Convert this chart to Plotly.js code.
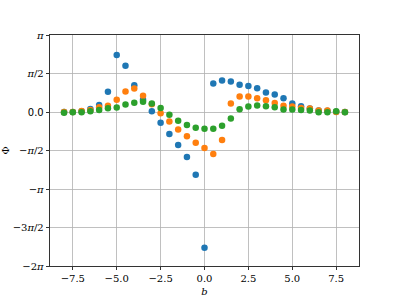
<!DOCTYPE html>
<html>
<head>
<meta charset="utf-8">
<script src="https://cdn.plot.ly/plotly-3.0.1.min.js"></script>
<style>html,body{margin:0;padding:0;background:#fff;}#chart{width:399px;height:299px;}</style>
</head>
<body>
<div id="chart"></div>
<script>
const b = [-8,-7.5,-7,-6.5,-6,-5.5,-5,-4.5,-4,-3.5,-3,-2.5,-2,-1.5,-1,-0.5,0,0.5,1,1.5,2,2.5,3,3.5,4,4.5,5,5.5,6,6.5,7,7.5,8];
const phiBlue = [0,0,0.03,0.12,0.29,0.83,2.33,1.89,1.09,0.50,0.03,-0.44,-0.90,-1.35,-1.84,-2.56,-5.54,1.16,1.29,1.24,1.11,1.06,0.97,0.80,0.71,0.56,0.35,0.23,0.14,0.06,0.05,0.01,0];
const phiOrange = [0,0,0.04,0.08,0.19,0.25,0.50,0.84,0.96,0.66,0.32,-0.05,-0.39,-0.71,-0.99,-1.25,-1.47,-1.71,-1.14,0.35,0.63,0.63,0.56,0.48,0.37,0.26,0.22,0.16,0.14,0.06,0.06,0,0];
const phiGreen = [-0.03,-0.01,-0.01,0.03,0.08,0.15,0.18,0.31,0.38,0.42,0.35,0.16,-0.11,-0.36,-0.53,-0.64,-0.68,-0.68,-0.56,-0.27,0.11,0.22,0.27,0.23,0.19,0.10,0.10,0.08,0.06,-0.01,-0.01,0.03,-0.01];
const yTickMult = [1,0.5,0,-0.5,-1,-1.5,-2];
const yTickText = ['<i>π</i>','<i>π</i>/2','<span style="font-family:DejaVu Sans">0.0</span>','−<i>π</i>/2','−<i>π</i>','−3<i>π</i>/2','−2<i>π</i>'];
const xTickVals = [-7.5,-5,-2.5,0,2.5,5,7.5];
const xTickText = ['−7.5','−5.0','−2.5','0.0','2.5','5.0','7.5'];

const colors = ['#1f77b4','#ff7f0e','#2ca02c'];
const series = [phiBlue, phiOrange, phiGreen];
const traces = series.map((s,i)=>({
  x: b, y: s, type:'scatter', mode:'markers',
  marker:{color:colors[i], size:6.5, line:{width:0}},
  showlegend:false, cliponaxis:false
}));

const layout = {
  width:399, height:299,
  margin:{l:50, r:40, t:35, b:33},
  paper_bgcolor:'#fff', plot_bgcolor:'#fff',
  font:{family:'DejaVu Serif', size:10, color:'#000'},
  xaxis:{
    range:[-8.8,8.8], tickvals:xTickVals, ticktext:xTickText,
    showgrid:true, gridcolor:'#b0b0b0', gridwidth:0.8,
    zeroline:false, showline:true, linecolor:'#000', linewidth:0.8, mirror:true,
    ticks:'outside', ticklen:3.5, tickwidth:0.8, tickcolor:'#000',
    tickfont:{family:'DejaVu Serif', size:10},
    title:{text:'<i>b</i>', font:{family:'DejaVu Serif', size:10}, standoff:4}
  },
  yaxis:{
    range:[-2*Math.PI, Math.PI], tickvals:yTickMult.map(m=>m*Math.PI), ticktext:yTickText,
    showgrid:true, gridcolor:'#b0b0b0', gridwidth:0.8,
    zeroline:false, showline:true, linecolor:'#000', linewidth:0.8, mirror:true,
    ticks:'outside', ticklen:3.5, tickwidth:0.8, tickcolor:'#000',
    tickfont:{family:'DejaVu Serif', size:10},
    title:{text:'Φ', font:{family:'DejaVu Serif', size:10}, standoff:4}
  }
};
Plotly.newPlot('chart', traces, layout, {displayModeBar:false, staticPlot:true});
</script>
</body>
</html>
